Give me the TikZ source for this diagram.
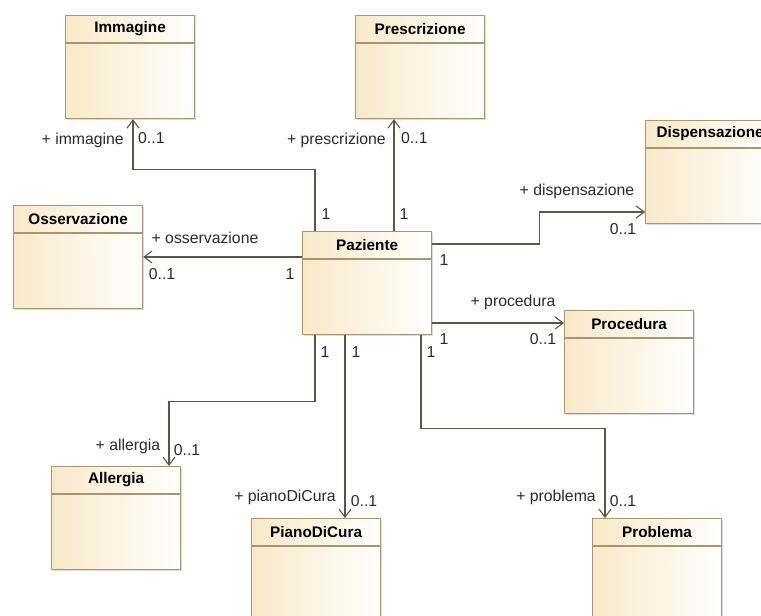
\documentclass[tikz,border=0pt]{standalone}
\usepackage{fontspec}
\setmainfont{Liberation Sans}
\usetikzlibrary{arrows.meta,calc,shadows}
\definecolor{clsfill}{HTML}{F8E9C8}
\definecolor{clsborder}{HTML}{A8966E}
\definecolor{linecol}{HTML}{5C5444}
\definecolor{txtcol}{HTML}{2A2A2A}
\tikzset{
  clsbox/.style={draw=clsborder, line width=1.2pt, left color=clsfill, right color=white,
    minimum width=129pt, minimum height=103pt, anchor=north west, inner sep=0pt,
    drop shadow={shadow xshift=1.5pt, shadow yshift=-1.5pt, fill=black!30, opacity=0.45}},
  clstitle/.style={font=\fontsize{15.3}{18}\selectfont\bfseries, text=black, inner sep=0pt, anchor=center},
  assoc/.style={draw=linecol, line width=1.2pt, -{Straight Barb[length=8pt,width=12pt,line width=1.1pt]}},
  lbl/.style={font=\fontsize{15.8}{18}\selectfont, text=txtcol, inner sep=0pt, anchor=center},
}
\newcommand{\umlclass}[3]{%
  \node[clsbox] (#1) at (#2) {};
  \node[clstitle] (#1T) at ($(#1.north)+(0,14)$) {#3};
  \draw[clsborder, line width=1.2pt] ($(#1.north west)+(0,28)$) -- ($(#1.north east)+(0,28)$);
}
\begin{document}
\begin{tikzpicture}[x=1pt,y=-1pt]
\useasboundingbox (0,0) rectangle (761,616);
\clip (0,0) rectangle (761,616);
\umlclass{imm}{65,15}{Immagine}
\umlclass{pre}{355,15}{Prescrizione}
\umlclass{dis}{645,120}{Dispensazione}
\umlclass{oss}{13,205}{Osservazione}
\umlclass{paz}{302,231}{Paziente}
\umlclass{pro}{564,310}{Procedura}
\umlclass{all}{51,466}{Allergia}
\umlclass{pia}{251,518}{PianoDiCura}
\umlclass{prb}{592,518}{Problema}

% connectors
\draw[assoc] ($(paz.north west)+(13,0)$) |- ($(imm.south west)+(68,50)$) -- ($(imm.south west)+(68,0)$);
\draw[assoc] ($(paz.north west)+(92,0)$) -- ($(pre.south west)+(39,0)$);
\draw[assoc] ($(paz.north east)+(0,13)$) -- ++(107,0) |- ($(dis.north west)+(0,92)$);
\draw[assoc] ($(paz.north west)+(0,26)$) -- ($(oss.north east)+(0,52)$);
\draw[assoc] ($(paz.north east)+(0,92)$) -- ($(pro.north west)+(0,13)$);
\draw[assoc] ($(paz.south west)+(13,0)$) -- ++(0,66) -| ($(all.north west)+(118,0)$);
\draw[assoc] ($(paz.south west)+(43,0)$) -- ($(pia.north west)+(94,0)$);
\draw[assoc] ($(paz.south west)+(119,0)$) -- ++(0,93) -| ($(prb.north west)+(13,0)$);

% labels
\node[lbl, anchor=east] (l1) at (124,140) {+ immagine};
\node[lbl, anchor=west] (m1) at (138,138) {0..1};
\node[lbl] (p1) at (326,214) {1};
\node[lbl, anchor=east] (l2) at (386,140) {+ prescrizione};
\node[lbl, anchor=west] (m2) at (401,138) {0..1};
\node[lbl] (p2) at (404,214) {1};
\node[lbl] (l3) at (577,191) {+ dispensazione};
\node[lbl] (m3) at (623,229) {0..1};
\node[lbl] (p3) at (444,260) {1};
\node[lbl] (l4) at (205,238) {+ osservazione};
\node[lbl] (m4) at (162,274) {0..1};
\node[lbl] (p4) at (290,274) {1};
\node[lbl] (l5) at (513,302) {+ procedura};
\node[lbl] (m5) at (543,339) {0..1};
\node[lbl] (p5) at (444,339) {1};
\node[lbl] (l6) at (128,446) {+ allergia};
\node[lbl] (m6) at (187,450) {0..1};
\node[lbl] (p6) at (325,352) {1};
\node[lbl] (l7) at (285,497) {+ pianoDiCura};
\node[lbl] (m7) at (364,501) {0..1};
\node[lbl] (p7) at (356,352) {1};
\node[lbl] (l8) at (556,497) {+ problema};
\node[lbl] (m8) at (623,501) {0..1};
\node[lbl] (p8) at (431,352) {1};
\end{tikzpicture}
\end{document}
